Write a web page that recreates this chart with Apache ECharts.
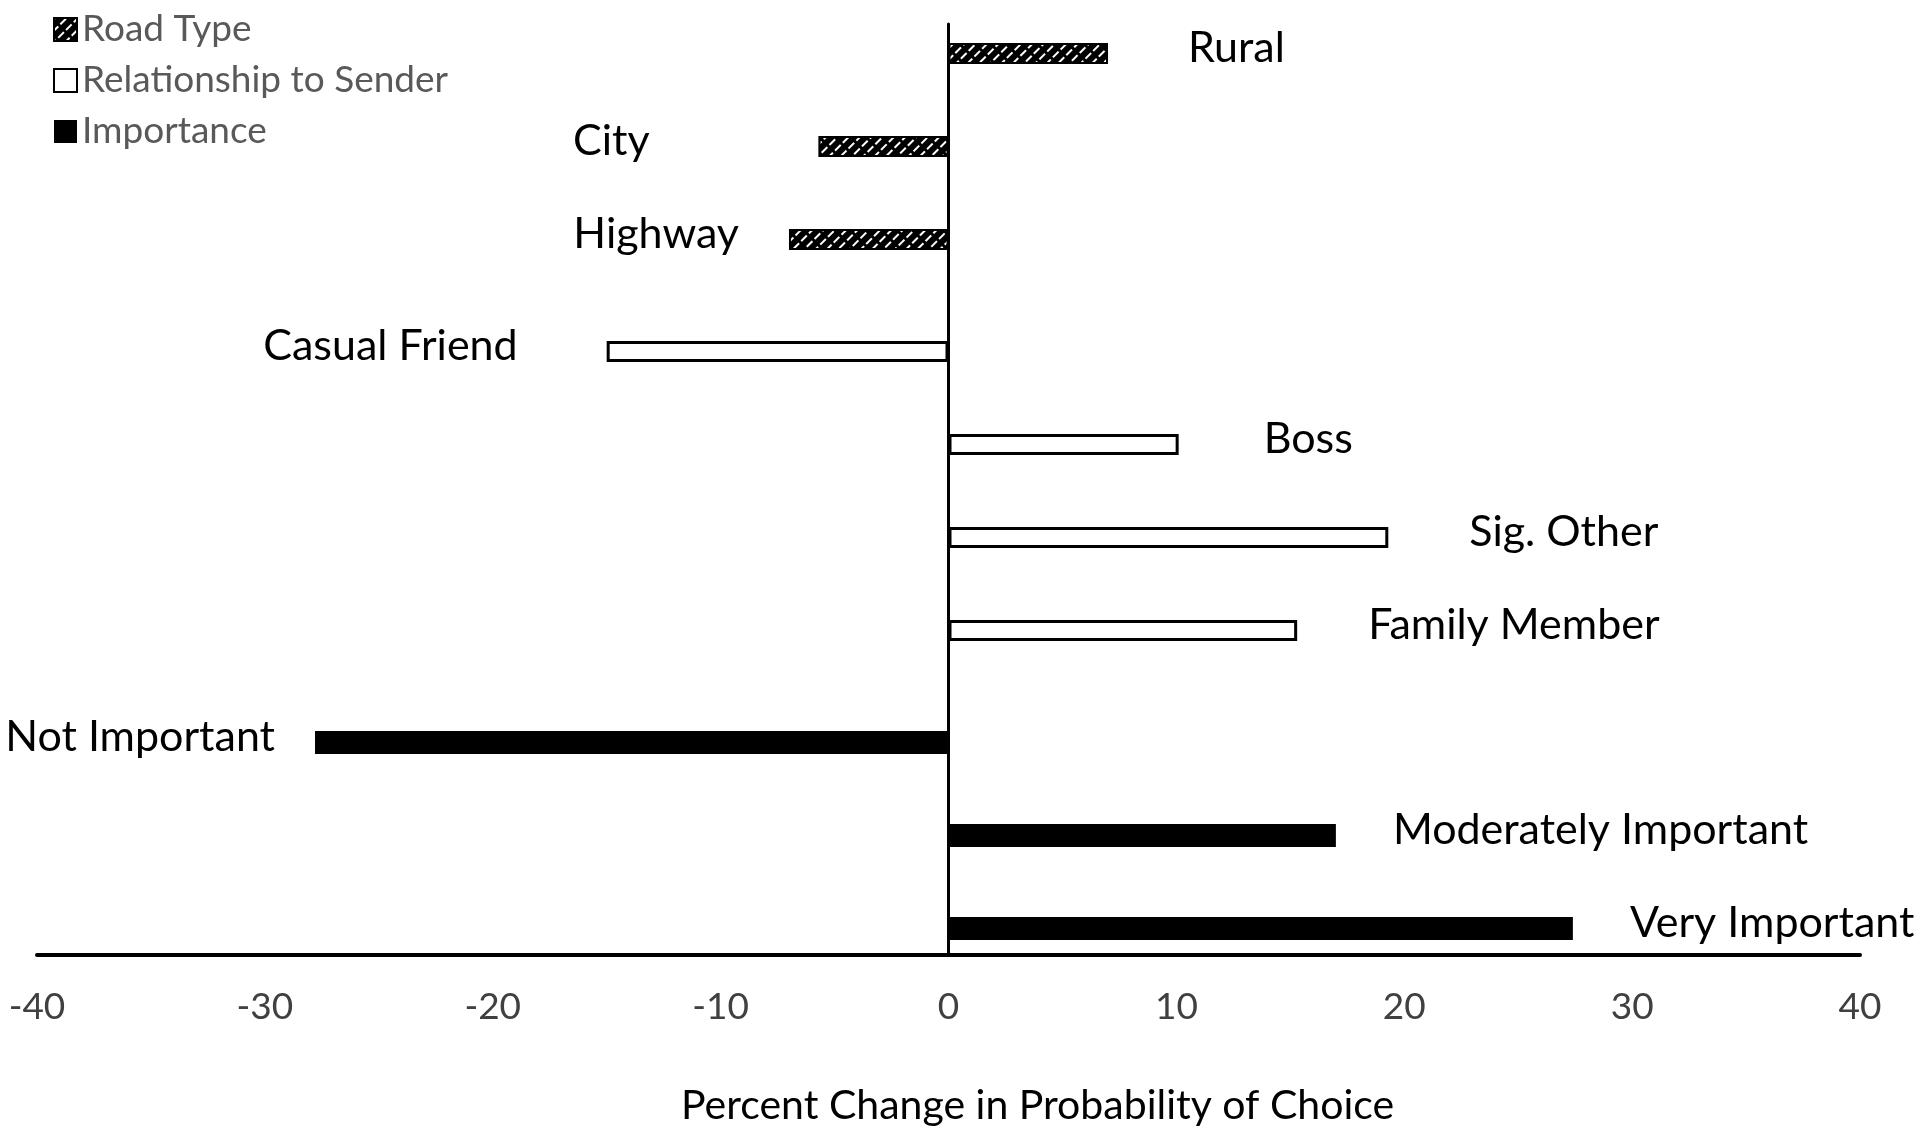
<!DOCTYPE html>
<html>
<head>
<meta charset="utf-8">
<title>Percent Change in Probability of Choice</title>
<script src="https://cdn.jsdelivr.net/npm/echarts@6/dist/echarts.min.js"></script>
<style>
    html, body { margin: 0; padding: 0; background: #fff; }
    #main { width: 1920px; height: 1138px; }
</style>
</head>
<body>
<div id="main"></div>
<script>
// 三组数据 分开放
var roadCats = ['Rural', 'City', 'Highway'];
var roadVals = [7.0, -5.7, -7.0];

var relCats = ['Casual Friend', 'Boss', 'Sig. Other', 'Family Member'];
var relVals = [-15.0, 10.1, 19.3, 15.3];

var impCats = ['Not Important', 'Moderately Important', 'Very Important'];
var impVals = [-27.8, 17.0, 27.4];

var xTicks = [-40, -30, -20, -10, 0, 10, 20, 30, 40];

// 文字离柱子末端的距离 (原图是手动摆的文本框)
var roadGap = [80, 169, 50];
var relGap = [89, 85, 81, 71];
var impGap = [40, 57, 57];

var labelFont = 'Lato';

function buildData(vals, cats, gaps) {
    return vals.map(function (v, i) {
        return {
            name: cats[i],
            value: v,
            label: {
                position: v < 0 ? 'left' : 'right',
                distance: gaps[i]
            }
        };
    });
}

var barLabel = {
    show: true,
    formatter: '{b}',
    color: '#000',
    fontFamily: labelFont,
    fontSize: 43,
    offset: [0, -5]
};

var hiddenX = function (idx) {
    return {
        type: 'value', gridIndex: idx, min: xTicks[0], max: xTicks[xTicks.length - 1],
        show: false
    };
};
var hiddenY = function (idx, cats) {
    return {
        type: 'category', gridIndex: idx, data: cats, inverse: true, show: false
    };
};

var myChart = echarts.init(document.getElementById('main'));

var option = {
    animation: false,
    backgroundColor: '#fff',
    title: {
        text: 'Percent Change in Probability of Choice',
        left: 676,
        top: 1080,
        textStyle: { fontFamily: labelFont, fontSize: 41, fontWeight: 'normal', color: '#000' }
    },
    legend: {
        orient: 'vertical',
        left: 48,
        top: 6,
        icon: 'rect',
        itemWidth: 23,
        itemHeight: 23,
        itemGap: 14,
        itemTextGap: 10,
        textStyle: { fontFamily: labelFont, fontSize: 37, color: '#595959' },
        data: ['Road Type', 'Relationship to Sender', 'Importance']
    },
    grid: [
        // 主坐标轴 只画轴线
        { left: 37, right: 60, top: 24, bottom: 183 },
        { left: 37, right: 60, top: 7, height: 279 },
        { left: 37, right: 60, top: 305, height: 372 },
        { left: 37, right: 60, top: 696, height: 279 }
    ],
    xAxis: [
        {
            type: 'value', gridIndex: 0,
            min: xTicks[0], max: xTicks[xTicks.length - 1], interval: 10,
            axisLine: { show: true, onZero: false, lineStyle: { color: '#000', width: 4 } },
            axisTick: { show: false },
            splitLine: { show: false },
            axisLabel: {
                margin: 34,
                fontFamily: labelFont, fontSize: 37, color: '#404040'
            }
        },
        hiddenX(1), hiddenX(2), hiddenX(3)
    ],
    yAxis: [
        {
            type: 'value', gridIndex: 0, min: 0, max: 1,
            axisLine: { show: true, onZero: true, lineStyle: { color: '#000', width: 3 } },
            axisTick: { show: false },
            axisLabel: { show: false },
            splitLine: { show: false }
        },
        hiddenY(1, roadCats), hiddenY(2, relCats), hiddenY(3, impCats)
    ],
    series: [
        {
            name: 'Road Type',
            type: 'bar',
            xAxisIndex: 1, yAxisIndex: 1,
            barWidth: 21,
            itemStyle: {
                color: '#000',
                borderColor: '#000',
                borderWidth: 2,
                decal: {
                    symbol: 'rect',
                    color: '#fff',
                    dashArrayX: [[8, 3]],
                    dashArrayY: [2, 6],
                    rotation: -Math.PI / 4
                }
            },
            label: barLabel,
            data: buildData(roadVals, roadCats, roadGap)
        },
        {
            name: 'Relationship to Sender',
            type: 'bar',
            xAxisIndex: 2, yAxisIndex: 2,
            barWidth: 21,
            itemStyle: { color: '#fff', borderColor: '#000', borderWidth: 3 },
            label: barLabel,
            data: buildData(relVals, relCats, relGap)
        },
        {
            name: 'Importance',
            type: 'bar',
            xAxisIndex: 3, yAxisIndex: 3,
            barWidth: 23,
            itemStyle: { color: '#000' },
            label: barLabel,
            data: buildData(impVals, impCats, impGap)
        }
    ]
};

myChart.setOption(option);
</script>
</body>
</html>
